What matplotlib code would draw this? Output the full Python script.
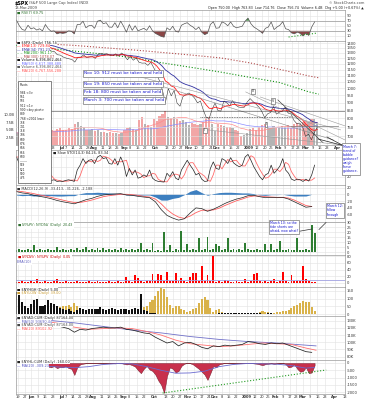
import numpy as np
import pandas as pd
import matplotlib
matplotlib.use("Agg")
import matplotlib.pyplot as plt
from matplotlib.lines import Line2D
from matplotlib.patches import Rectangle
from matplotlib.ticker import NullLocator

W, H = 367, 400
LEFT, RIGHT = 16, 345

# trading calendar used for the date axis
holidays = ["2008-05-26", "2008-07-04", "2008-09-01", "2008-11-27", "2008-12-25",
            "2009-01-01", "2009-01-19", "2009-02-16", "2009-04-10"]

tick_dates = ["2008-05-19", "2008-05-27", "2008-06-02", "2008-06-09", "2008-06-16", "2008-06-23",
              "2008-07-01", "2008-07-07", "2008-07-14", "2008-07-21", "2008-07-28",
              "2008-08-01", "2008-08-11", "2008-08-18", "2008-08-25",
              "2008-09-02", "2008-09-08", "2008-09-15", "2008-09-22",
              "2008-10-01", "2008-10-13", "2008-10-20", "2008-10-27",
              "2008-11-03", "2008-11-10", "2008-11-17", "2008-11-24",
              "2008-12-01", "2008-12-08", "2008-12-15", "2008-12-22",
              "2009-01-02", "2009-01-12", "2009-01-20", "2009-01-26",
              "2009-02-02", "2009-02-09", "2009-02-17", "2009-02-23",
              "2009-03-02", "2009-03-09", "2009-03-16", "2009-03-23",
              "2009-04-01", "2009-04-13"]
tick_labels = ["19", "27", "Jun", "9", "16", "23", "Jul", "7", "14", "21", "28",
               "Aug", "11", "18", "25", "Sep", "8", "15", "22", "Oct", "13", "20", "27",
               "Nov", "10", "17", "24", "Dec", "8", "15", "22", "2009", "12", "20", "26",
               "Feb", "9", "17", "23", "Mar", "9", "16", "23", "Apr", "13"]
month_labels = ["Jun", "Jul", "Aug", "Sep", "Oct", "Nov", "Dec", "2009", "Feb", "Mar", "Apr"]

# ---- every 2nd trading day from 16 May 2008 ----
spx_close = [1425, 1413, 1392, 1385, 1398, 1377, 1377, 1361, 1358, 1340, 1360, 1337, 1318, 1314, 1283, 1280,
             1262, 1252, 1245, 1239, 1215, 1260, 1261, 1282, 1257, 1263, 1267,
             1249, 1289, 1296, 1289, 1293, 1278, 1274, 1292, 1271, 1300,
             1277, 1236, 1267, 1232, 1252, 1213, 1206, 1207, 1186, 1213, 1166,
             1114, 1056, 985, 899, 998, 946, 985, 896, 876, 940, 954,
             966, 953, 930, 898, 911, 850, 806, 800, 857, 896,
             848, 845, 909, 899, 879, 913, 885, 871, 868, 869, 903,
             927, 907, 890, 871, 843, 805, 828, 836, 874, 826,
             838, 845, 870, 833, 827, 789, 770, 773, 752,
             700, 712, 683, 720, 750]
rsi7 = [72, 50, 35, 32, 52, 38, 42, 33, 38, 30, 55, 38, 28, 30, 18, 22,
        20, 22, 30, 28, 18, 55, 55, 68, 42, 50, 52,
        40, 68, 72, 58, 62, 45, 44, 62, 42, 68,
        48, 25, 55, 32, 50, 30, 35, 40, 32, 50, 30,
        20, 14, 8, 5, 42, 33, 48, 28, 25, 52, 58,
        62, 52, 45, 35, 45, 25, 15, 20, 55, 66,
        40, 42, 65, 60, 50, 65, 48, 42, 45, 48, 68,
        80, 58, 45, 38, 30, 20, 40, 45, 65, 35,
        45, 52, 66, 38, 35, 22, 18, 25, 20,
        10, 20, 12, 45, 65]
volume_b = [4.0, 3.8, 4.2, 3.5, 4.0, 4.3, 4.6, 4.4, 4.8, 4.5, 4.2, 4.9, 5.0, 4.6, 5.2, 5.4,
            5.0, 4.8, 5.6, 5.3, 6.8, 7.4, 6.2, 5.8, 5.0, 4.8, 5.1,
            4.5, 4.9, 4.4, 4.2, 4.0, 4.3, 3.8, 3.9, 3.6, 3.9,
            4.8, 5.5, 5.8, 5.2, 5.0, 8.2, 9.0, 7.0, 6.5, 6.0, 8.5,
            8.0, 9.5, 10.2, 11.0, 9.0, 8.8, 9.2, 8.5, 7.8, 8.3, 7.5,
            6.5, 7.2, 6.8, 6.5, 7.0, 7.5, 8.8, 9.2, 7.0, 4.5,
            7.0, 6.5, 6.2, 5.8, 6.0, 5.5, 5.0, 4.5, 3.0, 3.2, 3.8,
            5.2, 5.5, 5.0, 5.8, 6.5, 6.8, 6.0, 5.7, 6.2, 5.5,
            5.8, 6.2, 5.8, 6.5, 5.6, 6.8, 7.2, 7.0, 7.5,
            8.0, 7.6, 8.4, 8.5, 6.8]
stoch_k = [80, 60, 35, 30, 55, 35, 38, 20, 22, 12, 30, 18, 8, 10, 5, 6,
           5, 8, 10, 8, 5, 40, 55, 75, 60, 70, 72,
           60, 80, 85, 75, 78, 60, 58, 75, 55, 80,
           60, 20, 45, 25, 40, 15, 18, 25, 20, 40, 15,
           8, 5, 4, 3, 30, 20, 35, 15, 10, 40, 55,
           70, 55, 42, 25, 30, 12, 5, 6, 45, 65,
           45, 42, 75, 70, 60, 78, 62, 55, 50, 55, 80,
           88, 70, 50, 35, 20, 10, 25, 30, 55, 30,
           40, 52, 75, 40, 30, 12, 8, 12, 10,
           5, 12, 6, 25, 55]
up_down_ratio = [2, 3, 2, 2, 3, 2, 7, 2, 3, 2, 2, 3, 2, 2, 5, 2, 3, 2, 2, 3,
                 2, 4, 2, 3, 5, 2, 3, 2, 4, 2, 4, 2, 3, 2, 3, 2, 4, 2, 3, 2,
                 3, 2, 3, 9, 2, 3, 2, 9, 1, 2, 1, 20, 2, 7, 1, 3, 2, 21, 2, 8,
                 2, 3, 2, 14, 2, 3, 15, 2, 3, 8, 6, 2, 3, 14, 2, 3, 2, 3, 2, 9,
                 3, 2, 2, 3, 2, 2, 8, 2, 8, 2, 3, 11, 2, 2, 3, 2, 2, 14, 2, 2,
                 3, 2, 27, 19]
down_up_ratio = [4, 3, 5, 4, 3, 5, 4, 12, 3, 4, 5, 3, 4, 5, 12, 4, 3, 5, 4, 3,
                 4, 5, 3, 4, 3, 5, 4, 3, 5, 4, 3, 4, 5, 3, 4, 5, 3, 4, 19, 5,
                 4, 24, 14, 5, 4, 6, 5, 27, 6, 28, 24, 5, 34, 6, 5, 31, 6, 15, 5, 4,
                 19, 29, 31, 5, 50, 6, 25, 5, 81, 4, 5, 4, 9, 5, 4, 3, 5, 4, 4, 12,
                 4, 5, 27, 30, 5, 4, 5, 4, 5, 12, 4, 5, 34, 5, 4, 24, 5, 6, 5, 50,
                 12, 5, 4, 3]
black_bars = [140, 130, 80, 55, 40, 65, 90, 100, 55, 50, 60, 92, 70, 65, 50, 40,
              30, 25, 30, 20, 15, 25, 40, 30, 25, 35, 30,
              30, 35, 45, 30, 25, 35, 40, 30, 28, 35,
              30, 35, 28, 30, 40, 35, 130, 25, 20, 10, 8,
              5, 3, 2, 2, 2, 2, 2, 2, 3, 3, 3,
              3, 3, 2, 2, 2, 2, 2, 2, 2, 3,
              3, 4, 5, 6, 8, 6, 5, 4, 5, 6, 8,
              10, 8, 6, 5, 4, 3, 3, 4, 4, 3,
              3, 3, 3, 3, 2, 2, 2, 2, 2,
              2, 2, 2, 2, 3]
gold_bars = [5, 5, 8, 10, 8, 10, 15, 12, 10, 12, 15, 18, 20, 25, 30, 45,
             55, 50, 60, 45, 70, 50, 25, 15, 10, 12, 10,
             10, 8, 5, 6, 8, 10, 8, 12, 10, 8,
             10, 15, 12, 20, 25, 30, 70, 45, 55, 75, 90,
             120, 150, 170, 160, 110, 60, 40, 50, 55, 35, 25,
             15, 20, 30, 40, 70, 100, 110, 90, 40, 15,
             25, 30, 15, 10, 8, 5, 5, 8, 6, 4, 3,
             2, 3, 5, 8, 12, 20, 15, 12, 8, 10,
             12, 15, 18, 20, 25, 40, 55, 60, 70,
             85, 80, 75, 45, 20]
breadth_osc = [0, -50, -100, -150, -80, -200, -250, -150, -300, -200, -150,
               -250, -300, -200, -350, -280, -300, -200, -350, -400, -820,
               -300, -100, -50, -20, -10, 0,
               0, 0, 0, 0, -20, 0, 0, -30, 0, 0,
               -50, -100, -80, -150, -250, -500, -700, -400, -200, -450, -550,
               -800, -1200, -1500, -2050, -900, -300, -400, -650, -550, -200, -50,
               0, -20, -100, -250, -400, -600, -800, -1160, -700, -200,
               -300, -100, -50, 0, 0, -20, 0, 0, 0, 0, 0,
               0, 0, -30, -50, -100, -150, -80, -50, -20, -60,
               -30, -20, 0, -80, -300, -250, -100, -400, -600,
               -550, -300, -700, -650, -160]

# ---- every 4th trading day ----
macd_line = [8, 4, 2, -3, -6, -9, -13, -18, -22, -25, -28, -22, -16, -12, -6, -2, 0, 1, 2, -2,
             -3, -6, -8, -10, -22, -45, -62, -70, -76, -72, -55, -40, -42, -50, -44, -36, -27, -20, -14, -10,
             -4, -3, -7, -10, -9, -10, -9, -14, -22, -30, -38, -36]
macd_signal = [10, 8, 5, 2, -2, -5, -9, -13, -17, -21, -24, -24, -21, -17, -12, -7, -4, -2, 0, 0,
               -1, -3, -6, -8, -14, -28, -45, -58, -67, -71, -64, -54, -47, -47, -46, -41, -33, -26, -19, -14,
               -8, -5, -5, -7, -8, -9, -9, -11, -17, -25, -33, -36]
ad_line_k = [132, 131, 131, 130, 128, 128, 126, 123, 121, 119, 114, 118, 117, 119, 120, 121, 120, 120, 121, 118,
             117, 115, 113, 112, 107, 103, 99, 101, 95, 99, 100, 97, 93, 91, 95, 94, 96, 95, 96, 97,
             101, 100, 98, 97, 99, 98, 99, 96, 93, 90, 87, 86]

# ---- sparse (slow averages) ----
ma_days = [0, 20, 40, 60, 80, 100, 120, 140, 160, 180, 200, 207]
spx_ma300 = [1405, 1392, 1375, 1352, 1330, 1305, 1280, 1253, 1208, 1152, 1097, 1082]
spx_ma200 = [1375, 1348, 1318, 1288, 1255, 1208, 1168, 1128, 1085, 1045, 975, 958]
ad_ma50 = [133, 131, 127, 122, 117, 113, 108, 104, 101, 99, 96, 95]
ma20_days = [0, 10, 20, 30, 40, 50, 60, 70, 80, 90, 100, 110, 120, 130, 140, 150, 160, 170, 180, 190, 200, 207]
ad_ma20 = [131, 131, 129, 126, 121, 118, 119, 120, 119, 115, 110, 103, 98, 96, 94, 95, 97, 99, 98, 97, 92, 89]
osc_ma20 = [-150, -180, -220, -280, -320, -250, -100, -40, -60, -250, -500, -700, -680, -560, -250, -100,
            -30, -60, -80, -180, -350, -310]

# hand-drawn lines on the chart: (day, value) pairs
price_trends = [((101, 1011), (217, 682), "#888888"), ((85, 1088), (222, 735), "#999999"),
                ((157, 974), (225, 682), "#999999"), ((167, 938), (225, 757), "#999999"),
                ((179, 918), (210, 668), "#222222"), ((131, 735), (222, 658), "#999999")]
wave_labels = [("II", 129, 732), ("III", 162, 978), ("I", 171, 765), ("V", 176, 912)]
rsi_trend = ([188, 208], [5.7, 21.5])
osc_trend = ([101, 214], [-2055, -480])

days = pd.bdate_range("2008-05-16", "2009-04-30", freq="C", holidays=holidays)
day_index = {d.strftime("%Y-%m-%d"): i for i, d in enumerate(days)}
tick_pos = [day_index[d] for d in tick_dates]

t2 = np.arange(0, 208, 2)
t4 = np.arange(0, 208, 4)

plt.rcParams['font.family'] = ['DejaVu Sans']
fig = plt.figure(figsize=(W / 100, H / 100), dpi=100)
GRID = "#e2e2e2"
EDGE = "#9a9a9a"


def T(x, y, s, size=2.5, color="#222222", ha="left", va="center", **kw):
    return fig.text(x / W, 1 - y / H, s, fontsize=size, color=color, ha=ha, va=va, **kw)


def seg(x1, y1, x2, y2, color="#333333", lw=0.5):
    fig.add_artist(Line2D([x1 / W, x2 / W], [1 - y1 / H, 1 - y2 / H], color=color, lw=lw, zorder=6))


def panel(top, bottom, yticks, ylabels, ylim):
    ax = fig.add_axes([LEFT / W, 1 - bottom / H, (RIGHT - LEFT) / W, (bottom - top) / H])
    ax.set_xlim(-0.3, 225)
    ax.set_ylim(*ylim)
    ax.set_xticks(tick_pos)
    ax.set_xticklabels([])
    ax.yaxis.tick_right()
    ax.set_yticks(yticks)
    ax.set_yticklabels(ylabels)
    ax.tick_params(axis="both", length=0, labelsize=2.7, pad=1.2, colors="#333333")
    ax.grid(True, color=GRID, lw=0.4)
    ax.set_axisbelow(True)
    for s in ax.spines.values():
        s.set_color(EDGE)
        s.set_linewidth(0.5)
    return ax


def date_labels(ax, start=0):
    # labels left of `start` sit under the pivots box, so they are left blank
    ax.set_xticklabels([lab if p >= start else "" for p, lab in zip(tick_pos, tick_labels)])
    ax.tick_params(axis="x", labelsize=2.6, pad=0.8)
    for lab in ax.get_xticklabels():
        if lab.get_text() in month_labels:
            lab.set_fontweight("bold")


def legend(x, y, s, color="#222222"):
    T(x, y, s, color=color, bbox=dict(fc="white", ec="none", pad=0.1))


# ---------------- header ----------------
T(15, 3.2, "$SPX", size=3.4, weight="bold", color="#000000")
T(29.5, 3.2, "(S&P 500 Large Cap Index) INDX", size=2.6, color="#444444")
T(15, 7.6, "13-Mar-2009", size=2.6, color="#444444")
T(364, 3.2, "© StockCharts.com", size=2.5, ha="right", color="#444444")
T(364, 7.6, "Open 750.00  High 763.83  Low 714.76  Close 756.74  Volume 6.4B  Chg +5.00 (+0.67%) ▲",
  size=2.45, ha="right", color="#222222")

# ---------------- RSI ----------------
ax = panel(10, 41, [10, 30, 50, 70, 90], ["10", "30", "50", "70", "90"], (-10, 112))
r = np.array(rsi7, dtype=float)
ax.axhline(70, color="#9a9a9a", lw=0.5)
ax.axhline(30, color="#9a9a9a", lw=0.5)
ax.fill_between(t2, r, 30, where=r < 30, interpolate=True, color="#8a4545", lw=0)
ax.fill_between(t2, r, 70, where=r > 70, interpolate=True, color="#3f8f3f", lw=0)
ax.plot(t2, r, color="#555555", lw=0.5)
ax.plot(*rsi_trend, ls=":", color="#2a9d2a", lw=0.8)
legend(17, 12.8, "■ RSI(7) 69.75", color="#2a6f2a")

# ---------------- price + volume ----------------
axv = panel(41, 145, [2.5, 5, 7.5, 10], ["2.5B", "5.0B", "7.5B", "10.0B"], (0, 34))
axv.yaxis.tick_left()
axv.grid(False, axis="y")
date_labels(axv, start=24)
close = np.array(spx_close, dtype=float)
prev = np.concatenate([[close[0]], close[:-1]])
vcol = np.where(close >= prev, "#b4b4b4", "#f2a6a6")
axv.bar(t2, volume_b, width=1.5, color=vcol, lw=0)
vol = pd.Series(volume_b)
axv.plot(t2, vol.rolling(25, min_periods=1).mean(), color="#8c8cff", lw=0.5)
axv.plot(t2, vol.rolling(10, min_periods=1).mean(), color="#ff8c8c", lw=0.5)

axp = axv.twinx()
axp.set_xlim(-0.3, 225)
axp.set_yscale("log")
axp.set_ylim(657, 1421)
axp.yaxis.set_minor_locator(NullLocator())
price_ticks = list(range(700, 1401, 50))
axp.set_yticks(price_ticks)
axp.set_yticklabels([str(v) for v in price_ticks])
axp.tick_params(axis="y", length=0, labelsize=2.7, pad=1.2, colors="#333333")
axp.grid(True, axis="y", color=GRID, lw=0.4)
for s in axp.spines.values():
    s.set_visible(False)

s_close = pd.Series(spx_close, dtype=float)
axp.plot(ma_days, spx_ma300, ls=":", color="#b04848", lw=0.8)
axp.plot(ma_days, spx_ma200, ls=":", color="#109010", lw=0.8)
axp.plot(t2, s_close.ewm(span=17, adjust=False).mean(), color="#3030a0", lw=0.6)
axp.plot(t2, close, color="#222222", lw=0.35)
axp.plot(t2, s_close.ewm(span=7, adjust=False).mean(), color="#ff1a1a", lw=0.6)

for (a, b, c) in price_trends:
    axp.plot([a[0], b[0]], [a[1], b[1]], color=c, lw=0.4)
axp.plot([23, 225], [846, 846], ls=(0, (1.2, 1.2)), color="#111111", lw=0.6)
axp.plot([126, 188], [806, 806], ls=(0, (1.2, 1.2)), color="#333333", lw=0.5)
axp.plot([188, 220], [757, 757], color="#777777", lw=0.5)
for lab, dx, dv in wave_labels:
    axp.text(dx, dv, lab, fontsize=2.3, ha="center", va="center", color="#222222",
             bbox=dict(fc="white", ec="#555555", lw=0.4, pad=0.6))

main_legend = [("■ $SPX (Daily) 756.74", "#111111"), ("— EMA(13) 729.84", "#ff1a1a"),
               ("— EMA(34) 791.23", "#3030a0"), ("‒ ‒ MA(200) 961.17", "#109010"),
               ("‒ ‒ MA(300) 1078.07", "#b04848"), ("■ Volume 6,396,862,464", "#111111"),
               ("— MA(50) 6,617,388,480", "#6c6cff"), ("■ Volume 6,396,862,464", "#555555"),
               ("— MA(20) 6,767,556,288", "#ff5050")]
for i, (s, c) in enumerate(main_legend):
    legend(17, 42.6 + i * 3.5, s, color=c)

for i, s in enumerate(["Nov 10: 912 must be taken and held", "Nov 19: 850 must be taken and held",
                       "Feb 18: 800 must be taken and held", "March 3: 700 must be taken and held"]):
    T(84, [73.5, 84, 92.2, 100.3][i], s, size=3.1, color="#1a1acc",
      bbox=dict(fc="white", ec="#777777", lw=0.5, pad=0.9))

# pivots box
fig.add_artist(Rectangle((18 / W, 1 - 183 / H), 33 / W, 102 / H, transform=fig.transFigure,
                         fc="white", ec="#555555", lw=0.5, zorder=5))
pivots = ["Pivots", "", "984 <3>", "961", "935", "912 <1>", "900 <key pivot>", "889",
          "768 <2002 low>", "758", "741", "718", "706", "689", "676", "666", "656", "600",
          "--------", "559", "521", "500", "475"]
for i, s in enumerate(pivots):
    fig.text(19.5 / W, 1 - (84.5 + i * 4.25) / H, s, fontsize=2.05, color="#222222",
             va="center", zorder=6)

# March 7 note
T(343, 159, "March 7:\ntrend of\nbubble\nguidance?\nweigh\nthese\nguidance.", size=2.3,
  color="#1a1acc", linespacing=1.05, zorder=7,
  bbox=dict(fc="white", ec="#777777", lw=0.5, pad=0.8))
seg(343, 145.5, 318, 139, color="#222222")
seg(343, 145.5, 327, 137, color="#222222")

# ---------------- stochastics ----------------
# only the 20 label shows; the others sit under the March 7 note
ax = panel(150, 185, [20, 50, 80], ["20", "", ""], (-6, 101.5))
k = pd.Series(stoch_k, dtype=float)
ax.plot(t2, k.rolling(2, min_periods=1).mean().shift(1).bfill(), color="#ff6b6b", lw=0.6)
ax.plot(t2, k, color="#222222", lw=0.5)
legend(53, 153, "■ Slow STO(14,3) 84.26, 83.34", color="#222222")

# ---------------- MACD ----------------
ax = panel(185, 222, [20, 0, -20, -40, -60], ["20", "0", "-20", "-40", "-60"], (-81.5, 27.4))
m = np.array(macd_line, dtype=float)
sg = np.array(macd_signal, dtype=float)
ax.fill_between(t4, m - sg, 0, color="#3d7fc0", lw=0)
ax.plot(t4, sg, color="#ff6060", lw=0.6)
ax.plot(t4, m, color="#222222", lw=0.5)
legend(17, 188.4, "■ MACD(12,26,9) -33.413, -31.226, -2.188", color="#333333")

# ---------------- up/down volume ratio ----------------
ax = panel(222, 255, [0, 5, 10, 15, 20, 25, 30], ["0", "5", "10", "15", "20", "25", "30"], (-3, 30.5))
ax.bar(t2, up_down_ratio, width=1.3, color="#2e7d32", lw=0)
legend(17, 225, "■ $NYUPV:$NYDNV (Daily) 20.43", color="#2e6e2e")
T(270, 221, "March 10: so the\ntide shorts are\nafraid, now what?", size=2.3, color="#1a1acc",
  linespacing=1.05, va="top", zorder=7, bbox=dict(fc="white", ec="#777777", lw=0.5, pad=0.8))
seg(298, 231.5, 312, 229)
T(327, 204, "March 12:\nfollow\nthrough", size=2.3, color="#1a1acc",
  linespacing=1.1, va="top", zorder=7, bbox=dict(fc="white", ec="#777777", lw=0.5, pad=0.8))
seg(326, 222.5, 319, 229.5)

# ---------------- down/up volume ratio ----------------
ax = panel(255, 287, [0, 20, 40, 60, 80], ["0", "20", "40", "60", "80"], (-12, 84))
ax.bar(t2, down_up_ratio, width=1.3, color="#ff0000", lw=0)
ax.axhline(10, color="#a0a0e0", lw=0.6)
legend(17, 257.3, "■ $NYDNV:$NYUPV (Daily) 0.05", color="#cc0000")
legend(17, 262.4, "EMA(10)", color="#6060c0")

# ---------------- highs / lows ----------------
ax = panel(287, 316, [0, 50, 100, 150], ["0", "50", "100", "150"], (-12.5, 175))
ax.bar(t2, gold_bars, width=1.4, color="#d9b24a", lw=0)
ax.bar(t2, black_bars, width=1.4, color="#111111", lw=0)
legend(17, 289.5, "■ $NYHGH (Daily) 5.00", color="#111111")
legend(17, 293, "■ $NYLOW (Daily) 39.00", color="#c89a30")

# ---------------- advance/decline line ----------------
ad_ticks = [80, 90, 100, 110, 120, 130]
ax = panel(316, 360, ad_ticks, [f"{v}K" for v in ad_ticks], (75.4, 136.5))
ax.plot(ma_days, ad_ma50, color="#7070c8", lw=0.6)
ax.plot(ma20_days, ad_ma20, color="#ff7070", lw=0.6)
ax.plot(t4, ad_line_k, color="#222222", lw=0.55)
legend(17, 318.3, "■ $NYAD:CUM (Daily) 87164.00", color="#222222")
legend(17, 321.8, "— MA(50) 93690.44", color="#6060c0")
legend(17, 325.3, "■ $NYAD:CUM (Daily) 87164.00", color="#444444")
legend(17, 328.8, "— MA(20) 89102.92", color="#ff5050")

# ---------------- breadth oscillator ----------------
ax = panel(360, 394, [0, -500, -1000, -1500, -2000], ["0", "-500", "-1000", "-1500", "-2000"], (-2123, 205))
b = np.array(breadth_osc, dtype=float)
ax.fill_between(t2, b, 0, color="#c8304c", edgecolor="#6a1020", lw=0.3)
ax.plot(ma20_days[:-1] + [206], osc_ma20, color="#6a6ad0", lw=0.6)
ax.plot(*osc_trend, ls=":", color="#1f9a1f", lw=0.8)
legend(17, 362.3, "■ $NYHL:CUM (Daily) -160.00", color="#222222")
legend(17, 365.8, "— MA(20) -309.23", color="#5050c0")
date_labels(ax)

fig.savefig("out.png", dpi=100, facecolor="white")
